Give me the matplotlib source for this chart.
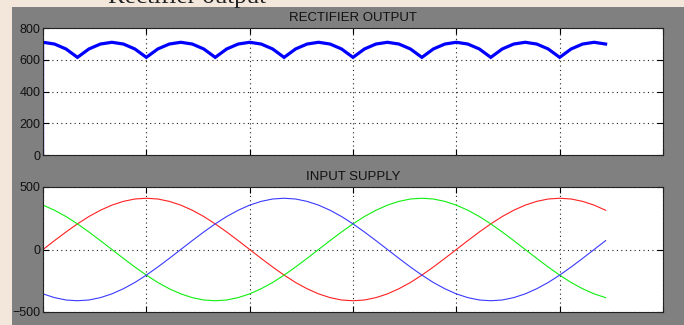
import matplotlib
matplotlib.use("Agg")
import matplotlib.pyplot as plt
from matplotlib.patches import Rectangle

plt.rcParams['font.family'] = ['Liberation Sans', 'DejaVu Sans']

# angle (electrical degrees, 50 Hz -> 90 deg per grid step)
angle = list(range(0, 500, 10))

# phase voltages read from INPUT SUPPLY (V)
phase_r = [0, 71, 140, 205, 264, 314, 355, 385, 404, 410, 404, 385, 355, 314, 264, 205, 140, 71,
           0, -71, -140, -205, -264, -314, -355, -385, -404, -410, -404, -385, -355, -314, -264, -205, -140, -71,
           0, 71, 140, 205, 264, 314, 355, 385, 404, 410, 404, 385, 355, 314]
phase_y = [355, 314, 264, 205, 140, 71, 0, -71, -140, -205, -264, -314, -355, -385, -404, -410, -404, -385,
           -355, -314, -264, -205, -140, -71, 0, 71, 140, 205, 264, 314, 355, 385, 404, 410, 404, 385,
           355, 314, 264, 205, 140, 71, 0, -71, -140, -205, -264, -314, -355, -385]
phase_b = [-355, -385, -404, -410, -404, -385, -355, -314, -264, -205, -140, -71, 0, 71, 140, 205, 264, 314,
           355, 385, 404, 410, 404, 385, 355, 314, 264, 205, 140, 71, 0, -71, -140, -205, -264, -314,
           -355, -385, -404, -410, -404, -385, -355, -314, -264, -205, -140, -71, 0, 71]

# rectifier output read from RECTIFIER OUTPUT (V), starts from 0 at t=0
out_angle = [0] + angle
out_volts = [0] + [710, 699, 668, 615, 668, 699] * 8 + [710, 699]

fig = plt.figure(figsize=(6.84, 3.25), dpi=100, facecolor='#f3e7dc')
fig.patches.append(Rectangle((12 / 684, 0), 1, 1 - 7 / 325, transform=fig.transFigure,
                             facecolor='#808080', edgecolor='none', zorder=0))
# slide caption above the screenshot, mostly cut off by the top edge
fig.text(108 / 684, 1 - 3.5 / 325, "Rectifier output", family=['Liberation Serif', 'DejaVu Serif'],
         fontsize=18, color='#222222', va='baseline', ha='left', zorder=1)

ax1 = fig.add_axes([43 / 684, 1 - 155 / 325, 620 / 684, 127 / 325])
ax2 = fig.add_axes([43 / 684, 1 - 312 / 325, 620 / 684, 125 / 325])

ax1.plot(out_angle[:2], out_volts[:2], color='#0000ff', lw=0.9)
ax1.plot(out_angle[1:], out_volts[1:], color='#0000ff', lw=2.3, solid_joinstyle='miter')
ax1.set_ylim(0, 800)
ax1.set_yticks([0, 200, 400, 600, 800])
ax1.set_title("RECTIFIER OUTPUT", fontsize=9.5, pad=5, color='#111111')

ax2.plot(angle, phase_r, color='#ff2020', lw=0.8)
ax2.plot(angle, phase_y, color='#10ee10', lw=0.8)
ax2.plot(angle, phase_b, color='#3a3aff', lw=0.8)
ax2.set_ylim(-500, 500)
ax2.set_yticks([-500, 0, 500])
ax2.set_title("INPUT SUPPLY", fontsize=9.5, pad=5, color='#111111')

for ax in (ax1, ax2):
    ax.set_zorder(2)
    ax.set_facecolor('white')
    ax.set_xlim(0, 540)
    ax.set_xticks(range(0, 541, 90))
    ax.set_xticklabels([])
    ax.grid(True, linestyle=(0, (1, 3)), color='#222222', lw=0.8)
    ax.tick_params(direction='in', length=4, width=0.8, top=True, right=True,
                   labelsize=9, labelcolor='#111111', pad=2)
    for s in ax.spines.values():
        s.set_linewidth(0.8)
        s.set_color('#222222')

fig.savefig("out.png", dpi=100, facecolor=fig.get_facecolor())
